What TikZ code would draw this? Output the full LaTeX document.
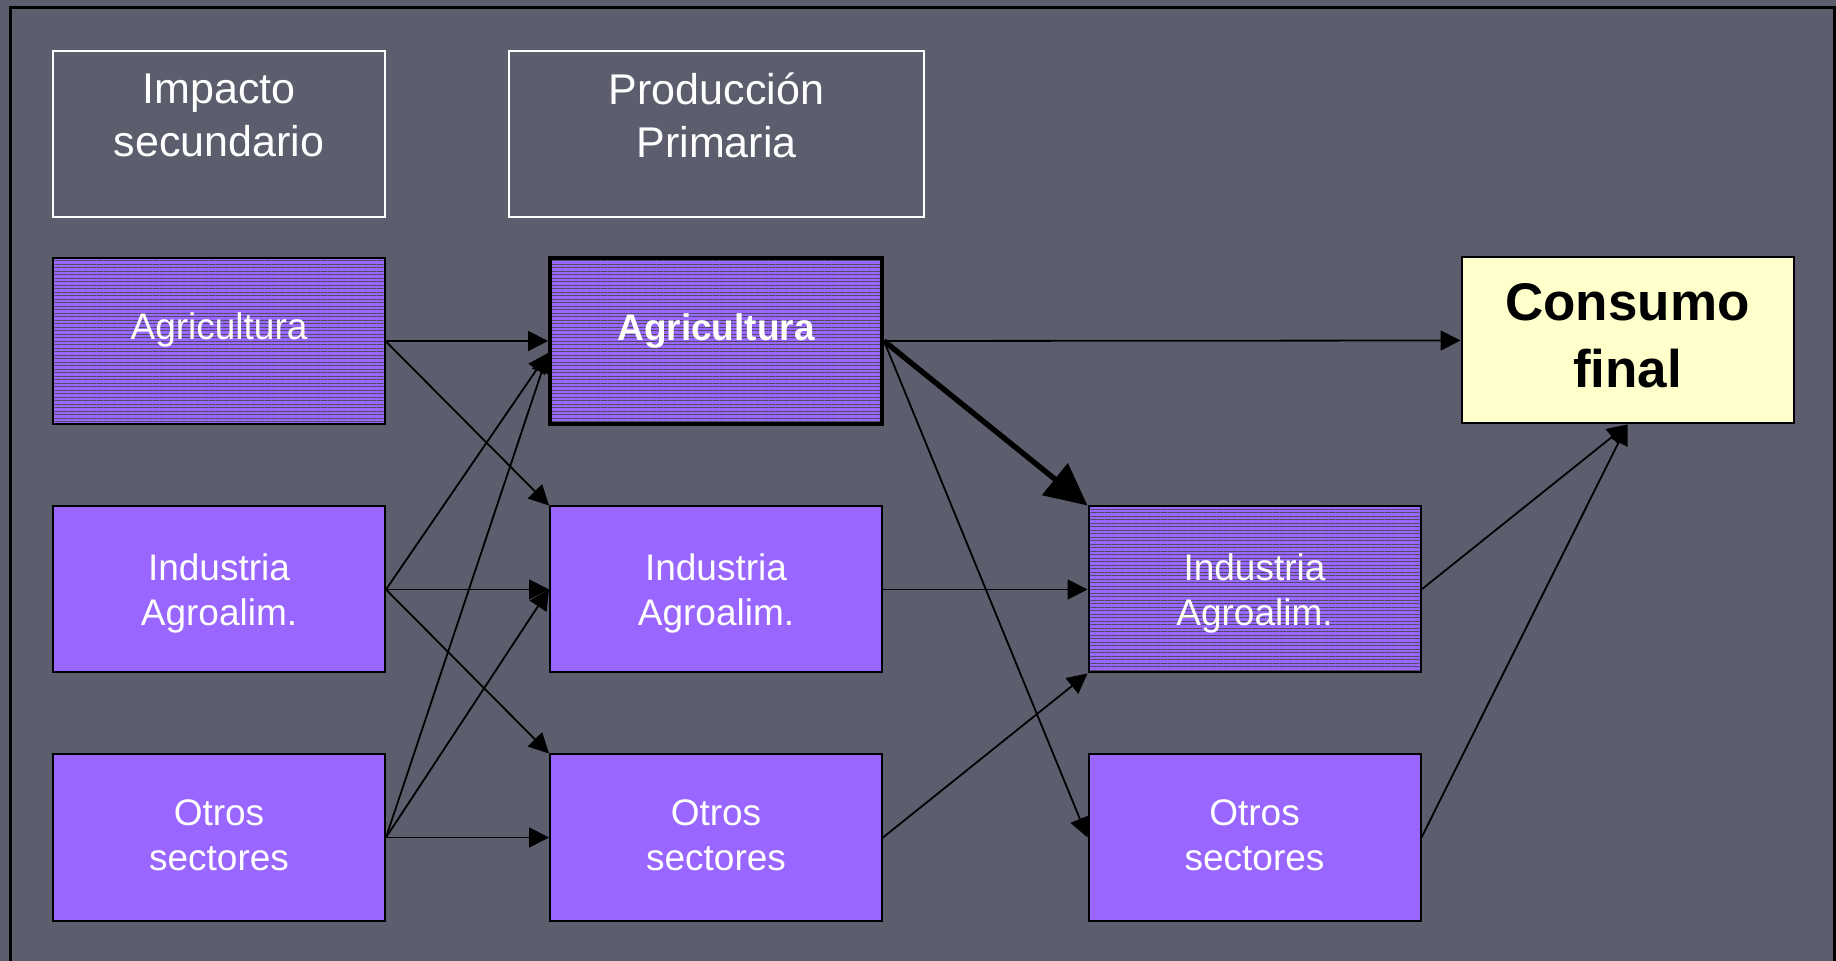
\documentclass[tikz,border=0pt]{standalone}
\usepackage{fontspec}
\setmainfont{Liberation Sans}
\usetikzlibrary{arrows.meta,patterns.meta}

\definecolor{fondo}{HTML}{5C5E6E}
\definecolor{morado}{HTML}{9966FF}
\definecolor{rayas}{HTML}{4E4E5E}
\definecolor{crema}{HTML}{FFFFCC}

\tikzset{
  sector/.style={draw=black, line width=1pt, fill=morado, minimum width=166pt, minimum height=83pt, inner sep=0pt},
  rayado/.style={sector, preaction={fill=morado}, pattern={Lines[distance=1.75pt,line width=0.5pt]}, pattern color=rayas},
  titulo/.style={draw=white, line width=1pt, minimum height=83pt, inner sep=0pt},
  texto/.style={text=white, align=center, font=\fontsize{18.5}{22.5}\selectfont},
  textotit/.style={text=white, align=center, font=\fontsize{21.5}{26.5}\selectfont},
  flecha/.style={-{Triangle[length=10pt,width=10pt]}, line width=0.9pt},
  gruesa/.style={-{Triangle[length=21pt,width=20pt]}, line width=2.7pt}
}

\begin{document}
\begin{tikzpicture}[x=0.5pt,y=-0.5pt]
        \fill[fondo] (0,0) rectangle (1836,961);
        \useasboundingbox (0,0) rectangle (1836,961);
        \draw[line width=1.5pt] (10.5,961) -- (10.5,8) -- (1834.5,8) -- (1834.5,961);

        \node[titulo, minimum width=166pt] (tImp) at (219,134) {};
        \node[titulo, minimum width=207.5pt] (tProd) at (716.5,134) {};
        \node[textotit] (tImpT) at ([yshift=9.5pt]tImp.center) {Impacto\\secundario};
        \node[textotit] (tProdT) at ([yshift=9.5pt]tProd.center) {Producción\\Primaria};

        \node[rayado] (lAgr) at (219,341) {};
        \node[sector] (lInd) at (219,589.5) {};
        \node[sector] (lOtr) at (219,837.5) {};
        \node[rayado, line width=2pt] (mAgr) at (716,341) {};
        \node[sector] (mInd) at (716,589.5) {};
        \node[sector] (mOtr) at (716,837.5) {};
        \node[rayado] (rInd) at (1254.5,589.5) {};
        \node[sector] (rOtr) at (1254.5,837.5) {};
        \node[sector, fill=crema] (cons) at (1627.5,340.5) {};

        \node[texto] (lAgrT) at ([yshift=5.5pt]lAgr.center) {Agricultura};
        \node[texto] (lIndT) at ([yshift=-1.75pt]lInd.center) {Industria\\Agroalim.};
        \node[texto] (lOtrT) at ([yshift=1pt]lOtr.center) {Otros\\sectores};
        \node[texto, font=\fontsize{18.5}{22.5}\selectfont\bfseries] (mAgrT) at ([yshift=5pt]mAgr.center) {Agricultura};
        \node[texto] (mIndT) at ([yshift=-1.75pt]mInd.center) {Industria\\Agroalim.};
        \node[texto] (mOtrT) at ([yshift=1pt]mOtr.center) {Otros\\sectores};
        \node[texto] (rIndT) at ([yshift=-1.75pt]rInd.center) {Industria\\Agroalim.};
        \node[texto] (rOtrT) at ([yshift=1pt]rOtr.center) {Otros\\sectores};
        \node[align=center, font=\fontsize{26.5}{33.5}\selectfont\bfseries] (consT) at ([yshift=2.5pt]cons.center) {Consumo\\final};

        \draw[flecha] (lAgr.east) -- (mAgr.west);
        \draw[flecha] (lAgr.east) -- (mInd.north west);
        \draw[flecha] (lInd.east) -- ([yshift=-6pt]mAgr.west);
        \draw[flecha] (lInd.east) -- (mInd.west);
        \draw[flecha] (lInd.east) -- (mOtr.north west);
        \draw[flecha] (lOtr.east) -- ([yshift=-6pt]mAgr.west);
        \draw[flecha] (lOtr.east) -- (mInd.west);
        \draw[flecha] (lOtr.east) -- (mOtr.west);
        \draw[flecha] (mAgr.east) -- (cons.west);
        \draw[gruesa] (mAgr.east) -- (rInd.north west);
        \draw[flecha] (mAgr.east) -- (rOtr.west);
        \draw[flecha] (mInd.east) -- (rInd.west);
        \draw[flecha] (mOtr.east) -- (rInd.south west);
        \draw[flecha] (rInd.east) -- (cons.south);
        \draw[flecha] (rOtr.east) -- (cons.south);
    \end{tikzpicture}
\end{document}
